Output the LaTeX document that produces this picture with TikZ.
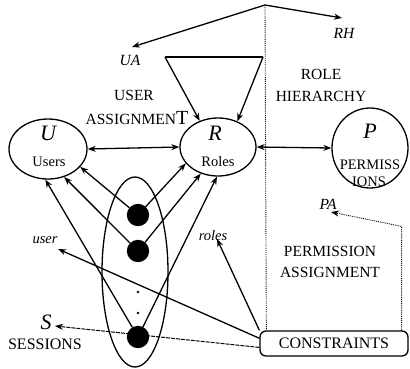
\documentclass[tikz,border=0pt]{standalone}
\usepackage{fontspec}
\setmainfont{Liberation Serif}
\usetikzlibrary{arrows.meta,shapes.geometric}
\begin{document}
\begin{tikzpicture}[x=1pt,y=-1pt,
  line width=1.3pt,
  tip/.style={-{Stealth[length=8pt,width=6pt]}},
  tips/.style={{Stealth[length=8pt,width=6pt]}-{Stealth[length=8pt,width=6pt]}},
  oval/.style={draw,ellipse,inner sep=0pt},
  sess/.style={circle,fill=black,draw=black,minimum size=21pt,inner sep=0pt},
  capt/.style={font=\fontsize{15.5}{17}\selectfont,inner sep=0pt},
  small/.style={font=\fontsize{14.5}{16}\selectfont,inner sep=0pt},
  itl/.style={font=\fontsize{15.5}{17}\selectfont\itshape,inner sep=0pt},
  bigit/.style={font=\fontsize{22}{24}\selectfont\itshape,inner sep=0pt},
  faint/.style={line width=0.9pt,densely dotted}]
\useasboundingbox (0,0) rectangle (410,368);

% entity sets
\node[oval,minimum width=78pt,minimum height=60pt] (U) at (48,149) {};
\node[oval,minimum width=76pt,minimum height=58pt] (R) at (218,147) {};
\node[oval,minimum width=76pt,minimum height=80pt] (P) at (370,148) {};
\node[oval,minimum width=66pt,minimum height=190pt] (S) at (135,272) {};

\node[bigit] at (48,133) {U};
\node[small] at (49,162) {Users};
\node[bigit] at (215,133) {R};
\node[small] at (218,162) {Roles};
\node[bigit] at (370,131) {P};
\node[small] at (370,165) {PERMISS};
\node[small] at (369,182) {IONS};

% sessions
\node[sess] (s1) at (138,215) {};
\node[sess] (s2) at (138,251) {};
\node[sess] (s3) at (138,337) {};
\fill (138,292) circle (1.3pt) (138,313) circle (1.3pt);

% constraints box
\node[draw,rounded corners=6pt,minimum width=148pt,minimum height=25pt,
      inner sep=0pt,font=\fontsize{16}{18}\selectfont] (C) at (334,343.5) {CONSTRAINTS};

% assignment relations
\draw[tips] (U.east) -- (R.west);
\draw[tips] (R.east) -- (P.west);

% role hierarchy loop
\coordinate (t1) at (165,57);
\coordinate (t2) at (263,57);
\draw (t2) -- (t1);
\draw[tip] (t1) -- (R.125);
\draw[tip] (t2) -- (R.53);

% user and roles functions of sessions
\draw[tip] (s1) -- (U.-29);
\draw[tip] (s2) -- (U.-60);
\draw[tip] (s3) -- (U.-95);
\draw[tip] (s1) -- (R.-153);
\draw[tip] (s2) -- (R.-123);
\draw[tip] (s3) -- (R.-92);

% labels of the model
\node[itl] (ua) at (130,60) {UA};
\node[itl] (rh) at (344,33) {RH};
\node[capt] at (134,95) {USER};
\node[capt] at (137,118) {ASSIGNMEN{\fontsize{20}{22}\selectfont T}};
\node[capt] at (321,74) {ROLE};
\node[capt] at (321,96) {HIERARCHY};
\node[itl] (pa) at (328,204) {PA};
\node[itl,font=\fontsize{14.5}{16}\selectfont\itshape] (us) at (45,240) {user};
\node[itl,font=\fontsize{14.5}{16}\selectfont\itshape] (ro) at (213,236) {roles};
\node[capt] at (330,251) {PERMISSION};
\node[capt] at (330,272) {ASSIGNMENT};
\node[bigit] (sl) at (46,322) {S};
\node[capt,font=\fontsize{16}{18}\selectfont] at (45,344) {SESSIONS};

% pointers from the divider apex
\coordinate (apex) at (265,5);
\coordinate (uatip) at (132,47);
\coordinate (rhtip) at (342,18);
\draw[tip] (apex) -- (uatip);
\draw[tip] (apex) -- (rhtip);
\draw[faint] (apex) -- (C.169.3);

% pointers from the constraints
\coordinate (ustip) at (58,249);
\coordinate (rotip) at (217,239);
\coordinate (patip) at (331,212);
\coordinate (stip) at (55,326);
\draw[tip] (C.176.5) -- (ustip);
\draw[tip] (C.170.9) -- (rotip);
\draw[tip,line width=1pt,dash pattern=on 4pt off 1pt] (C.-177.3) -- (stip);
\draw[tip,faint] (C.11.4) -- ++(0,-104) -- (patip);
\end{tikzpicture}
\end{document}
